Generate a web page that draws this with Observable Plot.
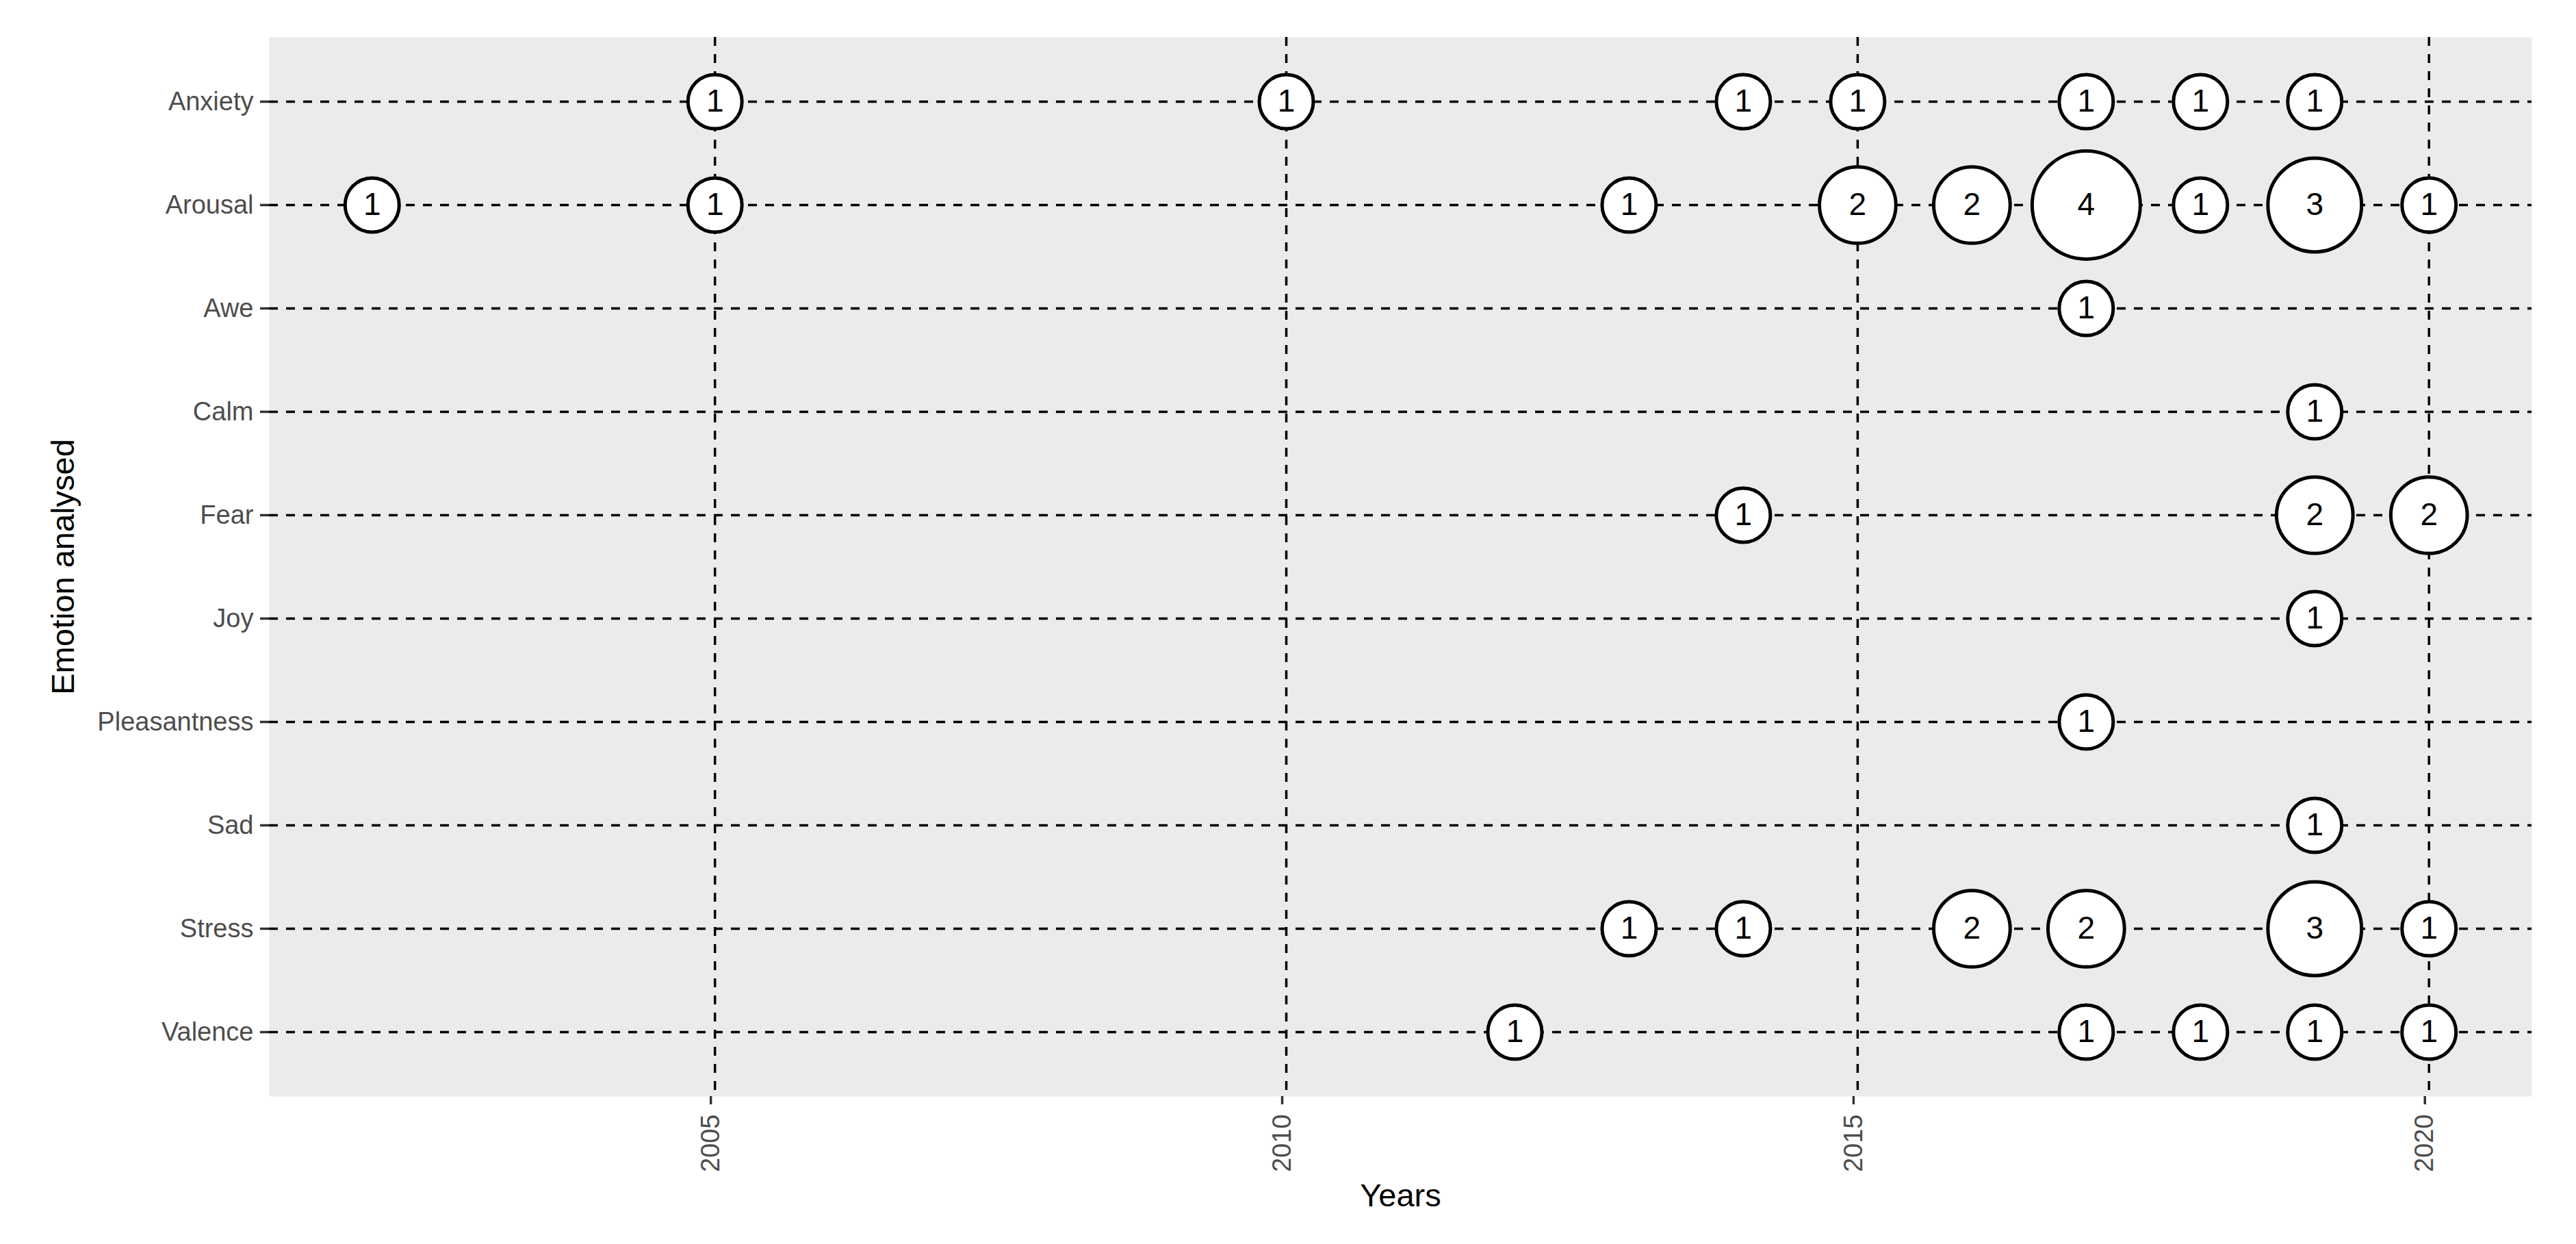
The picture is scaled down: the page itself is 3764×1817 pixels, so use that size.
<!DOCTYPE html>
<html>
<head>
<meta charset="utf-8">
<script src="https://cdn.jsdelivr.net/npm/d3@7"></script>
<script src="https://cdn.jsdelivr.net/npm/@observablehq/plot@0.6"></script>
<style>
  html, body { margin: 0; padding: 0; background: white; }
  svg { display: block; }
</style>
</head>
<body>
<div id="chart"></div>
<script>
// Categories (y axis, top to bottom)
const categories = ["Anxiety", "Arousal", "Awe", "Calm", "Fear", "Joy", "Pleasantness", "Sad", "Stress", "Valence"];

// X tick labels
const xTicks = [2005, 2010, 2015, 2020];

// Data (parallel arrays): emotion, year, number of studies
const emotion = [
  "Anxiety", "Anxiety", "Anxiety", "Anxiety", "Anxiety", "Anxiety", "Anxiety",
  "Arousal", "Arousal", "Arousal", "Arousal", "Arousal", "Arousal", "Arousal", "Arousal", "Arousal",
  "Awe",
  "Calm",
  "Fear", "Fear", "Fear",
  "Joy",
  "Pleasantness",
  "Sad",
  "Stress", "Stress", "Stress", "Stress", "Stress", "Stress",
  "Valence", "Valence", "Valence", "Valence", "Valence"
];
const year = [
  2005, 2010, 2014, 2015, 2017, 2018, 2019,
  2002, 2005, 2013, 2015, 2016, 2017, 2018, 2019, 2020,
  2017,
  2019,
  2014, 2019, 2020,
  2019,
  2017,
  2019,
  2013, 2014, 2016, 2017, 2019, 2020,
  2012, 2017, 2018, 2019, 2020
];
const count = [
  1, 1, 1, 1, 1, 1, 1,
  1, 1, 1, 2, 2, 4, 1, 3, 1,
  1,
  1,
  1, 2, 2,
  1,
  1,
  1,
  1, 1, 2, 2, 3, 1,
  1, 1, 1, 1, 1
];

const rows = emotion.map((e, i) => ({emotion: e, year: year[i], count: count[i]}));

const font = "'Liberation Sans', Arial, Helvetica, sans-serif";

const chart = Plot.plot({
  width: 3764,
  height: 1817,
  marginLeft: 393,
  marginRight: 65,
  marginTop: 54,
  marginBottom: 216,
  style: {fontFamily: font, background: "white", overflow: "visible"},
  x: {domain: [2001.1, 2020.9], ticks: xTicks},
  y: {type: "point", domain: categories, padding: 0.6},
  r: {type: "sqrt", domain: [0, 4], range: [0, 79]},
  marks: [
    Plot.frame({fill: "#ebebeb", stroke: "none"}),
    Plot.gridX(xTicks, {stroke: "black", strokeOpacity: 1, strokeWidth: 3.5, strokeDasharray: "13,12"}),
    Plot.gridY(categories, {stroke: "black", strokeOpacity: 1, strokeWidth: 3.5, strokeDasharray: "13,12"}),
    Plot.axisX(xTicks, {
      tickSize: 12, tickPadding: 14, tickRotate: -90, dx: -6,
      fontSize: 38, fill: "#4d4d4d", stroke: "#333333", strokeWidth: 3.5,
      label: null, tickFormat: d => String(d)
    }),
    Plot.axisY(categories, {
      tickSize: 13, tickPadding: 10,
      fontSize: 38, fill: "#4d4d4d", stroke: "#333333", strokeWidth: 3.5,
      label: null
    }),
    Plot.dot(rows, {x: "year", y: "emotion", r: "count", fill: "white", stroke: "black", strokeWidth: 5}),
    Plot.text(rows, {x: "year", y: "emotion", text: d => String(d.count), fontSize: 46, fill: "black"}),
    Plot.text(["Years"], {frameAnchor: "bottom", textAnchor: "middle", dy: 160, fontSize: 47, fill: "black"}),
    Plot.text(["Emotion analysed"], {frameAnchor: "left", textAnchor: "middle", rotate: -90, dx: -301, fontSize: 47, fill: "black"})
  ]
});

document.getElementById("chart").appendChild(chart);
</script>
</body>
</html>
